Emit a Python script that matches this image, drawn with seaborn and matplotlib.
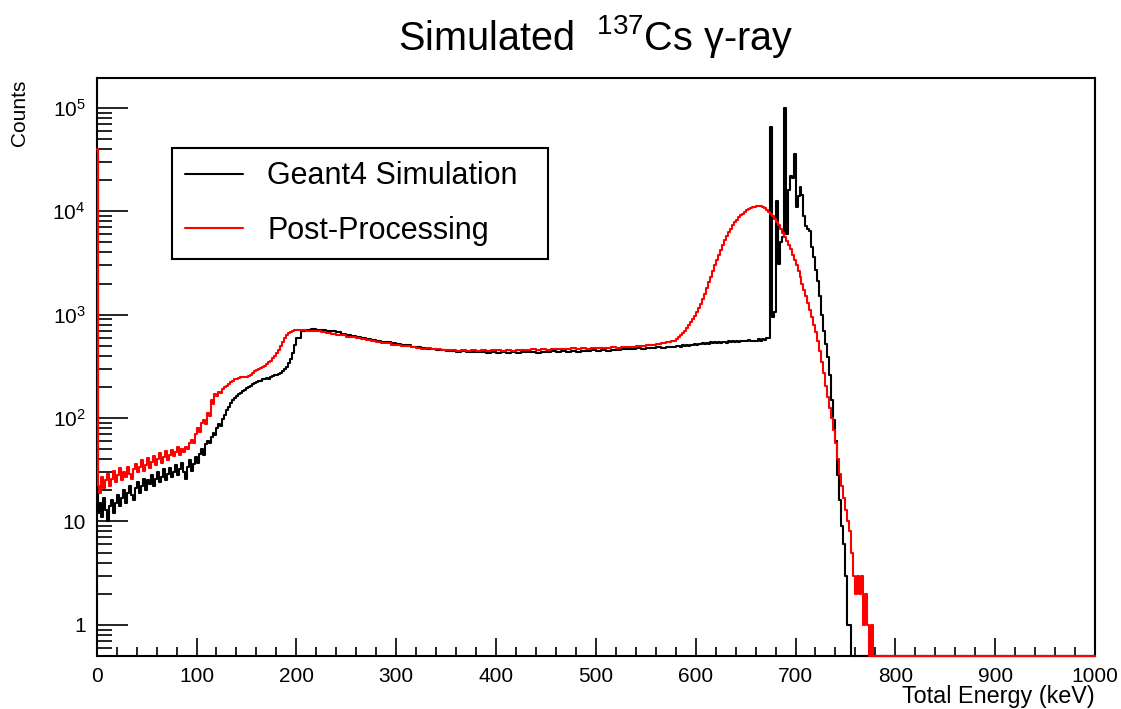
import numpy as np
import pandas as pd
import matplotlib
matplotlib.use("Agg")
import matplotlib.pyplot as plt
import seaborn as sns
from matplotlib.ticker import FixedLocator, FixedFormatter, NullFormatter

# ---------------- data ----------------
# bin left edges (keV): 0,1,2..198 step 2 | 200..575 step 5 | 580..778 step 2 | 780 (to 1000)
edges_low = [0, 1] + list(range(2, 200, 2))
edges_mid = list(range(200, 580, 5))
edges_peak = list(range(580, 780, 2))
edges_tail = [780]
x_max = 1000

geant4_low = [35000,
              12, 15, 11, 17, 13, 10, 14, 16, 12, 15, 18, 14, 17, 20, 15, 19, 22, 18, 16, 21,
              24, 19, 22, 26, 20, 25, 23, 28, 22, 26, 30, 24, 27, 32, 25, 29, 33, 27, 30, 35,
              28, 32, 37, 30, 26, 34, 39, 31, 36, 42, 37, 45, 50, 44, 56, 60, 57, 66, 72, 68,
              80, 88, 84, 98, 108, 120, 128, 140, 150, 158, 165, 172, 176, 182, 188, 195, 200, 206,
              212, 218, 222, 226, 230, 236, 240, 244, 238, 248, 254, 258, 262, 268, 275, 285, 298,
              315, 340, 375, 430, 510]
geant4_mid = [600, 690, 715, 725, 718, 705, 700, 690, 672, 655, 640, 622, 610, 592, 585, 568, 560,
              548, 540, 530, 522, 512, 505, 490, 482, 476, 470, 462, 458, 455, 450, 445, 440, 446,
              436, 440, 432, 438, 430, 436, 428, 434, 430, 436, 428, 434, 432, 438, 430, 440, 434,
              442, 436, 444, 438, 446, 440, 448, 444, 452, 448, 455, 450, 458, 455, 462, 466, 470,
              474, 470, 478, 474, 482, 478, 486, 490]
geant4_peak = [495, 502, 490, 505, 498, 510, 500, 512, 506, 518, 510, 522, 515, 528, 520, 532, 525,
               538, 528, 540, 532, 545, 536, 540, 548, 535, 550, 542, 555, 545, 552, 548, 558, 550,
               560, 552, 565, 555, 562, 558,
               550, 575, 560, 585, 570, 600, 590, 65000, 950, 1050, 12500, 3100, 5000, 5600, 100000,
               6000, 16000, 22000, 21000, 36000, 11000, 14000, 17000, 14500, 9000, 7200, 6800, 6500,
               4500, 3600, 2700, 2100, 1500, 1000, 700, 520, 390, 260, 150, 95, 60, 28, 16, 9, 6, 3,
               1, 1, 0, 0, 0, 0, 0, 0, 0, 0, 0, 0, 0, 0]
geant4_tail = [0]

post_low = [40000,
            22, 19, 27, 21, 25, 29, 22, 26, 31, 24, 28, 33, 25, 30, 27, 34,
            29, 26, 32, 36, 30, 34, 39, 31, 35, 41, 33, 38, 43, 35, 40,
            46, 37, 42, 48, 39, 44, 49, 43, 47, 52, 44, 50, 47, 53, 50, 57, 62, 58, 70,
            80, 74, 90, 96, 88, 112, 105, 150, 138, 172, 165, 180, 176, 192, 198, 205,
            215, 222, 228, 236, 240, 245, 247, 248, 250, 252, 255, 262, 272, 282, 292, 300, 308,
            315, 322, 330, 345, 360, 380, 400, 425, 455, 495, 545, 590, 630, 665, 685, 700, 710]
post_mid = [705, 715, 700, 695, 690, 672, 668, 650, 640, 632, 612, 605, 588, 578, 566, 552, 548, 535,
            528, 512, 508, 496, 492, 484, 480, 470, 474, 466, 462, 458, 455, 460, 450, 455, 448, 452,
            446, 455, 447, 452, 458, 450, 456, 448, 460, 452, 458, 462, 455, 465, 458, 468, 462, 470,
            465, 472, 468, 476, 470, 478, 474, 480, 476, 484, 478, 488, 482, 490, 495, 500, 505, 512,
            520, 530, 542, 560]
post_peak = [585, 605, 630, 660, 700, 740, 790, 845, 905, 975, 1060, 1160, 1280, 1420, 1600, 1800,
             2050, 2300, 2650, 3000, 3350, 3750, 4200, 4750, 5300, 5800, 6300, 6800, 7300, 7800,
             8250, 8700, 9100, 9500, 9850, 10200, 10500, 10750, 10950, 11100,
             11200, 11250, 11150, 11000, 10700, 10300, 9900, 9400, 8900, 8400, 7900, 7300, 6700, 6100,
             5600, 5100, 4700, 4300, 3800, 3400, 3000, 2650, 2300, 2000, 1750, 1500, 1300, 1100, 950,
             800, 680, 560, 450, 350, 270, 205, 160, 125, 100, 76, 57, 40, 29, 22, 17, 13, 10, 8, 5,
             3, 2, 3, 2, 3, 1, 2, 1, 0, 1, 0]
post_tail = [0]

series_names = ["Geant4 Simulation", "Post-Processing"]
series_colors = ["black", "#ff0000"]

x_ticks_major = list(range(0, 1001, 100))
y_tick_values = [1, 10, 100, 1000, 10000, 100000]
y_tick_labels = ["1", "10", "$10^{2}$", "$10^{3}$", "$10^{4}$", "$10^{5}$"]

# ---------------- assemble ----------------
edges = np.array(edges_low + edges_mid + edges_peak + edges_tail, dtype=float)
g4 = np.array(geant4_low + geant4_mid + geant4_peak + geant4_tail, dtype=float)
pp = np.array(post_low + post_mid + post_peak + post_tail, dtype=float)
assert len(edges) == len(g4) == len(pp), (len(edges), len(g4), len(pp))

y_lo, y_hi = 0.5, 1.93e5

def step_frame(counts, name):
    x = np.append(edges, x_max)
    y = np.append(counts, counts[-1])
    y = np.maximum(y, y_lo)  # empty bins drawn on the frame, as ROOT does
    return pd.DataFrame({"energy": x, "counts": y, "series": name})

frames = [step_frame(g4, series_names[0]), step_frame(pp, series_names[1])]

# ---------------- style ----------------
sns.set_style("white")
plt.rcParams["font.family"] = ["Liberation Sans", "DejaVu Sans"]
plt.rcParams["mathtext.fontset"] = "custom"
plt.rcParams["mathtext.rm"] = "Liberation Sans"
plt.rcParams["mathtext.it"] = "Liberation Sans:italic"
plt.rcParams["mathtext.default"] = "regular"
for k in ["text.color", "axes.labelcolor", "xtick.color", "ytick.color"]:
    plt.rcParams[k] = "black"

fig = plt.figure(figsize=(11.21, 7.09), dpi=100)
ax = fig.add_axes([96.7 / 1121, 1 - 656 / 709, (1095 - 96.7) / 1121, (656 - 78.3) / 709])

for df, col in zip(frames, series_colors):
    sns.lineplot(data=df, x="energy", y="counts", ax=ax, color=col, estimator=None, sort=False,
                 drawstyle="steps-post", linewidth=1.5, label=df["series"].iloc[0],
                 clip_on=False, zorder=3)

ax.set_yscale("log")
ax.set_xlim(0, x_max)
ax.set_ylim(y_lo, y_hi)

for s in ["top", "right", "left", "bottom"]:
    ax.spines[s].set_visible(True)
    ax.spines[s].set_linewidth(1.5)
    ax.spines[s].set_color("black")

ax.xaxis.set_major_locator(FixedLocator(x_ticks_major))
ax.xaxis.set_minor_locator(FixedLocator(list(range(0, 1001, 20))))
ax.yaxis.set_major_locator(FixedLocator(y_tick_values))
ax.yaxis.set_major_formatter(FixedFormatter(y_tick_labels))
minor_y = [m * 10.0 ** d for d in range(-1, 6) for m in range(2, 10)]
ax.yaxis.set_minor_locator(FixedLocator(minor_y))
ax.yaxis.set_minor_formatter(NullFormatter())

ax.tick_params(axis="x", which="major", direction="in", length=13, width=1.2, labelsize=15,
               pad=8, bottom=True, top=False)
ax.tick_params(axis="x", which="minor", direction="in", length=6.5, width=1.2, bottom=True, top=False)
ax.tick_params(axis="y", which="major", direction="in", length=22, width=1.2, labelsize=15,
               pad=8, left=True, right=False)
ax.tick_params(axis="y", which="minor", direction="in", length=11, width=1.2, left=True, right=False)

ax.set_xlabel("")
ax.set_ylabel("")
fig.text(1095 / 1121, 1 - 703 / 709, "Total Energy (keV)", ha="right", va="baseline", fontsize=16.8)
fig.text(19 / 1121, 1 - 80 / 709, "Counts", ha="center", va="top", rotation=90, fontsize=15)
fig.text(595.5 / 1121, 1 - 50 / 709, "Simulated  $^{137}$Cs γ-ray", ha="center", va="baseline",
         fontsize=28.5)

# legend
ax_w = 1095 - 96.7
ax_h = 656 - 78.3
lx0 = (172 - 96.7) / ax_w
ly0 = (656 - 257.5) / ax_h
lw = (548 - 172) / ax_w
lh = (255 - 147) / ax_h
leg = ax.legend(loc="center left", bbox_to_anchor=(lx0, ly0, lw, lh), mode="expand",
                fontsize=22, frameon=True, fancybox=False, shadow=False, borderaxespad=0,
                borderpad=0.42, handlelength=1.9, handletextpad=0.8, labelspacing=0.8)
leg.get_frame().set_edgecolor("black")
leg.get_frame().set_linewidth(1.5)
leg.get_frame().set_facecolor("white")
leg.get_frame().set_alpha(1)
leg.set_zorder(5)

fig.savefig("out.png", dpi=100, facecolor="white")
